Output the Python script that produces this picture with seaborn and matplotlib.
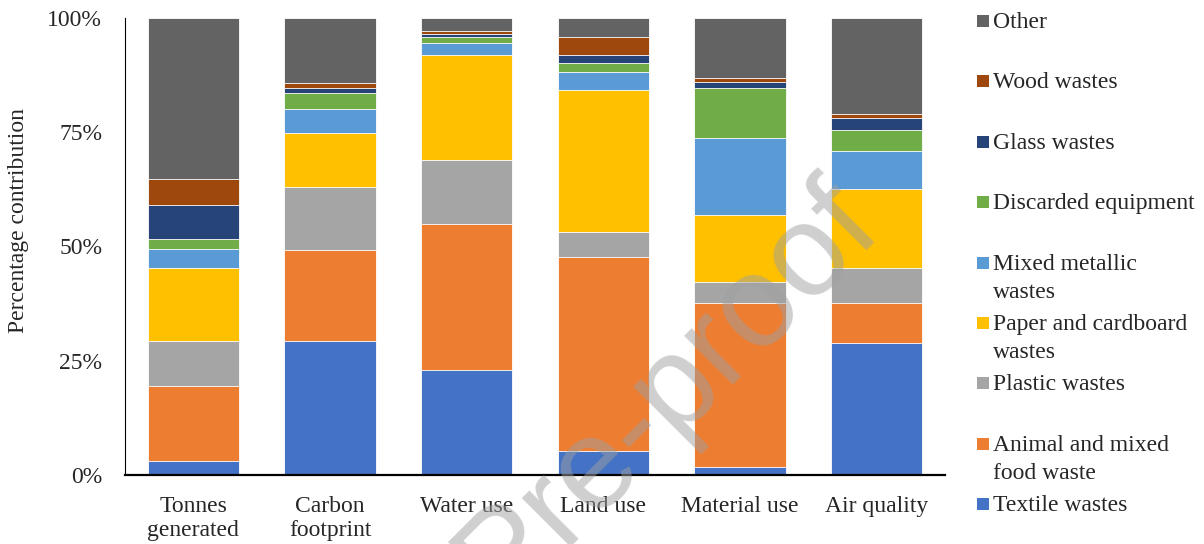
import pandas as pd
import matplotlib
matplotlib.use("Agg")
import matplotlib.pyplot as plt
from matplotlib.patches import Rectangle
import seaborn as sns

# categorias do eixo x
categorias = ["Tonnes\ngenerated", "Carbon\nfootprint", "Water use", "Land use",
              "Material use", "Air quality"]

# contribuicao (%) de cada residuo, de baixo para cima
textile = [3.1, 29.4, 23.0, 5.3, 1.8, 28.8]
animal_food = [16.4, 19.8, 32.0, 42.3, 35.8, 8.8]
plastic = [9.8, 13.9, 14.0, 5.5, 4.6, 7.6]
paper = [16.0, 11.7, 22.9, 31.1, 14.7, 17.4]
metallic = [4.1, 5.2, 2.7, 4.0, 16.8, 8.4]
discarded = [2.2, 3.6, 1.2, 2.0, 11.0, 4.5]
glass = [7.5, 1.0, 0.8, 1.6, 1.4, 2.7]
wood = [5.6, 1.1, 0.5, 4.1, 0.8, 0.8]
other = [35.3, 14.3, 2.9, 4.1, 13.1, 21.0]

series = ["Textile wastes", "Animal and mixed\nfood waste", "Plastic wastes",
          "Paper and cardboard\nwastes", "Mixed metallic\nwastes", "Discarded equipment",
          "Glass wastes", "Wood wastes", "Other"]
valores = [textile, animal_food, plastic, paper, metallic, discarded, glass, wood, other]
cores = ["#4472C4", "#ED7D31", "#A5A5A5", "#FFC000", "#5B9BD5", "#70AD47",
         "#264478", "#9E480E", "#636363"]

sns.set_style("white")
plt.rcParams["font.family"] = ["Liberation Serif", "DejaVu Serif"]

fig = plt.figure(figsize=(12.04, 5.44), dpi=100)
ax = fig.add_axes([125 / 1204, 69 / 544, 820 / 1204, 457 / 544])

# empilhamento: desenha as somas acumuladas, da maior para a menor
dados = pd.DataFrame({"categoria": categorias})
acumulado = [0.0] * len(categorias)
for nome, v in zip(series, valores):
    acumulado = [a + b for a, b in zip(acumulado, v)]
    dados[nome] = acumulado

for nome, cor in reversed(list(zip(series, cores))):
    sns.barplot(
        data=dados,
        x="categoria",
        y=nome,
        order=categorias,
        color=cor,
        width=0.666,
        errorbar=None,
        edgecolor="white",
        linewidth=0.6,
        saturation=1,
        ax=ax
    )

ax.set_ylim(0, 100)
ax.set_xlim(-0.5, 5.5)
ax.set_yticks([0, 25, 50, 75, 100])
ax.set_yticklabels(["0%", "25%", "50%", "75%", "100%"])
ax.set_xlabel("")
ax.set_ylabel("")
ax.tick_params(axis="y", length=0, pad=16.5, labelsize=17)
ax.tick_params(axis="x", length=0, pad=15, labelsize=17)
for s in ["top", "right"]:
    ax.spines[s].set_visible(False)
ax.spines["left"].set_color("black")
ax.spines["left"].set_linewidth(0.8)
ax.spines["bottom"].set_color("black")
ax.spines["bottom"].set_linewidth(1.6)

fig.text(19 / 1204, 1 - 221 / 544, "Percentage contribution", rotation=90,
         ha="center", va="center", fontsize=17)

# legenda manual, no estilo do Excel
itens = list(zip(series, cores))[::-1]
for i, (nome, cor) in enumerate(itens):
    y_slot = 21 + i * 60.4
    fig.patches.append(Rectangle((977 / 1204, 1 - (y_slot + 6) / 544), 12 / 1204, 12 / 544,
                                 transform=fig.transFigure, facecolor=cor, edgecolor="none"))
    for k, linha in enumerate(nome.split("\n")):
        fig.text(993 / 1204, 1 - (y_slot + 7 + k * 28) / 544, linha,
                 ha="left", va="baseline", fontsize=17)

# marca d'agua
fig.text(668 / 1204, 1 - 392 / 544, "Pre-proof", rotation=45, ha="center", va="center",
         fontsize=93, color="#A0A0A0", alpha=0.5, family=["Liberation Sans", "DejaVu Sans"])

fig.savefig("out.png", dpi=100)
